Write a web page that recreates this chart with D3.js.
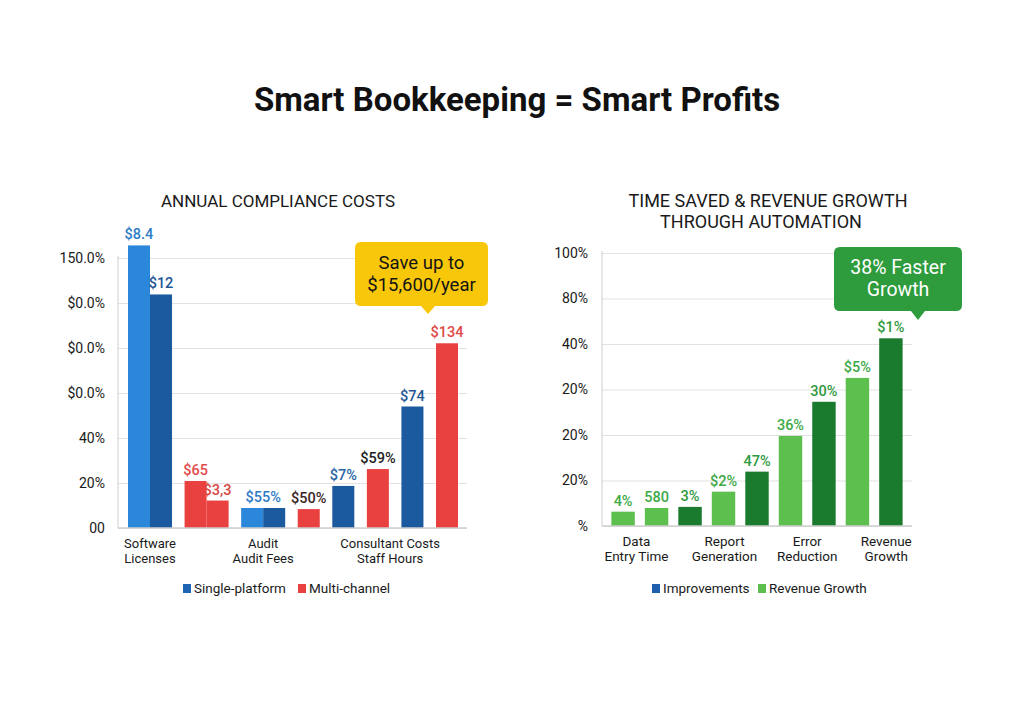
<!DOCTYPE html>
<html>
<head>
<meta charset="utf-8">
<script src="https://cdn.jsdelivr.net/npm/d3@7/dist/d3.min.js"></script>
<style>
  html, body { margin: 0; padding: 0; background: #ffffff; }
  svg { display: block; font-family: Roboto, "Liberation Sans", Arial, sans-serif; }
</style>
</head>
<body>
<svg id="chart" width="1024" height="717"></svg>
<script>
// ---------------- DATA ----------------
const mainTitle = "Smart Bookkeeping = Smart Profits";

// Left chart
const leftTitle = "ANNUAL COMPLIANCE COSTS";
const leftTickValues = [0, 20, 40, 60, 80, 100, 120];
const leftTickLabels = ["00", "20%", "40%", "$0.0%", "$0.0%", "$0.0%", "150.0%"];
const leftGroupSizes = [2, 2, 2, 1, 1, 1, 1, 1];
const leftBarSeries = ["single-light", "single", "multi", "multi", "single-light", "single", "multi", "single", "multi", "single", "multi"];
const leftBarValues = [125.6, 103.8, 20.9, 12.2, 8.9, 8.9, 8.4, 18.7, 26.2, 54, 82.1];
const leftBarLabels = ["$8.4", "$12", "$65", "$3,3", "", "", "$50%", "$7%", "$59%", "$74", "$134"];
const leftPairLabel = { text: "$55%", bars: [4, 5] };
const leftCategoryLabels = [["Software", "Licenses"], ["Audit", "Audit Fees"], ["Consultant Costs", "Staff Hours"]];
const leftCategoryAnchors = [1, 5, 8.5]; // bar boundaries the category labels sit under
const leftLegend = ["Single-platform", "Multi-channel"];
const leftCallout = ["Save up to", "$15,600/year"];

// Right chart
const rightTitle = ["TIME SAVED & REVENUE GROWTH", "THROUGH AUTOMATION"];
const rightTickValues = [0, 20, 40, 60, 80, 100, 120];
const rightTickLabels = ["%", "20%", "20%", "20%", "40%", "80%", "100%"];
const rightBarSeries = ["light", "light", "dark", "light", "dark", "light", "dark", "light", "dark"];
const rightBarValues = [6.3, 7.9, 8.4, 15.1, 23.9, 39.6, 54.6, 65.1, 82.5];
const rightBarLabels = ["4%", "580", "3%", "$2%", "47%", "36%", "30%", "$5%", "$1%"];
const rightCategoryLabels = [["Data", "Entry Time"], ["Report", "Generation"], ["Error", "Reduction"], ["Revenue", "Growth"]];
const rightCategoryAnchors = [0.4, 3.03, 5.5, 7.86];
const rightLegend = ["Improvements", "Revenue Growth"];
const rightCallout = ["38% Faster", "Growth"];

// ---------------- STYLE ----------------
const colors = {
  "single-light": "#2B87DA",
  "single": "#1B5A9E",
  "multi": "#E8413F",
  "light": "#5CBF4E",
  "dark": "#1A7A2E"
};
const leftLabelColors = ["#2E7CC6", "#1F5794", "#E24B4B", "#D94545", "", "", "#3B2626", "#2A64A3", "#222222", "#1F5794", "#E04848"];
const grid = "#e2e2e2";
const axisCol = "#cfcfcf";
const textCol = "#1a1a1a";

const svg = d3.select("#chart");
svg.append("rect").attr("width", 1024).attr("height", 717).attr("fill", "#fff");

svg.append("text")
  .attr("x", 517).attr("y", 111)
  .attr("text-anchor", "middle")
  .attr("font-size", 33).attr("font-weight", 700)
  .attr("fill", "#111")
  .text(mainTitle);

// ---------- helper: callout ----------
function callout(g, x0, y0, w, h, tipX, tipY, fill, lines, textFill, fs) {
  const r = 6, hw = 7;
  const x1 = x0 + w, y1 = y0 + h;
  const p = d3.path();
  p.moveTo(x0 + r, y0);
  p.lineTo(x1 - r, y0); p.quadraticCurveTo(x1, y0, x1, y0 + r);
  p.lineTo(x1, y1 - r); p.quadraticCurveTo(x1, y1, x1 - r, y1);
  p.lineTo(tipX + hw, y1); p.lineTo(tipX, tipY); p.lineTo(tipX - hw, y1);
  p.lineTo(x0 + r, y1); p.quadraticCurveTo(x0, y1, x0, y1 - r);
  p.lineTo(x0, y0 + r); p.quadraticCurveTo(x0, y0, x0 + r, y0);
  p.closePath();
  g.append("path").attr("d", p.toString()).attr("fill", fill);
  const cx = x0 + w / 2;
  lines.forEach((t, i) => {
    g.append("text").attr("x", cx).attr("y", y0 + h / 2 - 4 + (i - (lines.length - 1) / 2) * 22 + 10)
      .attr("text-anchor", "middle").attr("font-size", fs).attr("fill", textFill)
      .attr("font-weight", 400).text(t);
  });
}

// ================= LEFT CHART =================
{
  const g = svg.append("g");
  const xL0 = 118, xL1 = 467, yBase = 528, yTop = 258;
  const y = d3.scaleLinear().domain([0, 120]).range([yBase, yTop]);

  // x layout: bars 1 unit wide, gap of gapU units between groups
  const gapU = 0.57;
  const starts = [];
  let u = 0;
  leftGroupSizes.forEach((n, gi) => {
    for (let k = 0; k < n; k++) { starts.push(u); u += 1; }
    if (gi < leftGroupSizes.length - 1) u += gapU;
  });
  const x = d3.scaleLinear().domain([0, u]).range([128, 458]);
  const bw = x(1) - x(0);

  g.append("text").attr("x", 278).attr("y", 207).attr("text-anchor", "middle")
    .attr("font-size", 17).attr("fill", textCol).text(leftTitle);

  // grid
  g.append("g").attr("transform", `translate(${xL0},0)`)
    .call(d3.axisLeft(y).tickValues(leftTickValues).tickSize(-(xL1 - xL0)).tickFormat(""))
    .call(s => s.select(".domain").remove())
    .call(s => s.selectAll("line").attr("stroke", grid).attr("stroke-width", 1.2));

  // y axis labels
  g.append("g").attr("transform", `translate(${xL0},0)`)
    .call(d3.axisLeft(y).tickValues(leftTickValues).tickSize(0).tickPadding(13)
      .tickFormat((d, i) => leftTickLabels[i]))
    .call(s => s.select(".domain").attr("stroke", axisCol).attr("d", `M0,${yTop - 2}V${yBase}`))
    .call(s => s.selectAll("text").attr("font-size", 14).attr("fill", textCol).attr("font-family", "Roboto, sans-serif"));

  // bars
  g.selectAll(".lbar").data(leftBarValues).join("rect")
    .attr("x", (d, i) => x(starts[i]))
    .attr("y", d => y(d))
    .attr("width", bw)
    .attr("height", d => yBase - y(d))
    .attr("fill", (d, i) => colors[leftBarSeries[i]]);

  // baseline
  g.append("line").attr("x1", xL0).attr("x2", xL1).attr("y1", yBase).attr("y2", yBase)
    .attr("stroke", axisCol).attr("stroke-width", 1.5);

  // value labels
  g.selectAll(".lval").data(leftBarValues).join("text")
    .attr("x", (d, i) => x(starts[i]) + bw / 2)
    .attr("y", d => y(d) - 6)
    .attr("text-anchor", "middle").attr("font-size", 14.5).attr("font-weight", 500)
    .attr("fill", (d, i) => leftLabelColors[i])
    .text((d, i) => leftBarLabels[i]);
  {
    const [a, b] = leftPairLabel.bars;
    const top = Math.max(leftBarValues[a], leftBarValues[b]);
    g.append("text").attr("x", x(starts[b])).attr("y", y(top) - 6)
      .attr("text-anchor", "middle").attr("font-size", 14.5).attr("font-weight", 500)
      .attr("fill", "#2E7BC4").text(leftPairLabel.text);
  }

  // category labels
  leftCategoryLabels.forEach((lines, i) => {
    const a = leftCategoryAnchors[i];
    const fi = Math.floor(a);
    let cx;
    if (a === fi) cx = x(starts[fi]);
    else cx = (x(starts[fi]) + bw + x(starts[fi + 1])) / 2 - 5;
    lines.forEach((t, j) => {
      g.append("text").attr("x", cx).attr("y", 548 + j * 15).attr("text-anchor", "middle")
        .attr("font-size", 13).attr("fill", textCol).text(t);
    });
  });

  // legend
  const lg = g.append("g");
  lg.append("rect").attr("x", 183).attr("y", 584).attr("width", 8).attr("height", 9).attr("fill", "#1F63B4");
  lg.append("text").attr("x", 194).attr("y", 593).attr("font-size", 13.5).attr("fill", textCol).text(leftLegend[0]);
  lg.append("rect").attr("x", 298).attr("y", 584).attr("width", 8).attr("height", 9).attr("fill", colors.multi);
  lg.append("text").attr("x", 309).attr("y", 593).attr("font-size", 13.5).attr("fill", textCol).text(leftLegend[1]);

  // callout
  callout(g, 355, 242, 133, 64, 428, 314, "#F8C70A", leftCallout, "#141414", 18.5);
}

// ================= RIGHT CHART =================
{
  const g = svg.append("g");
  const xR0 = 602, xR1 = 912, yBase = 526, yTop = 253;
  const y = d3.scaleLinear().domain([0, 120]).range([yBase, yTop]);
  const x = d3.scaleBand().domain(d3.range(rightBarValues.length))
    .range([xR0, xR1]).paddingInner(0.3).paddingOuter(0.28);

  rightTitle.forEach((t, i) => {
    g.append("text").attr("x", i === 0 ? 768 : 761).attr("y", 207 + i * 21).attr("text-anchor", "middle")
      .attr("font-size", 18).attr("fill", textCol).text(t);
  });

  g.append("g").attr("transform", `translate(${xR0},0)`)
    .call(d3.axisLeft(y).tickValues(rightTickValues).tickSize(-(xR1 - xR0)).tickFormat(""))
    .call(s => s.select(".domain").remove())
    .call(s => s.selectAll("line").attr("stroke", grid).attr("stroke-width", 1.2));

  g.append("g").attr("transform", `translate(${xR0},0)`)
    .call(d3.axisLeft(y).tickValues(rightTickValues).tickSize(0).tickPadding(14)
      .tickFormat((d, i) => rightTickLabels[i]))
    .call(s => s.select(".domain").attr("stroke", axisCol).attr("d", `M0,${yTop - 2}V${yBase}`))
    .call(s => s.selectAll("text").attr("font-size", 14).attr("fill", textCol).attr("font-family", "Roboto, sans-serif"));

  g.selectAll(".rbar").data(rightBarValues).join("rect")
    .attr("x", (d, i) => x(i))
    .attr("y", d => y(d))
    .attr("width", x.bandwidth())
    .attr("height", d => yBase - y(d))
    .attr("fill", (d, i) => colors[rightBarSeries[i]]);

  g.append("line").attr("x1", xR0).attr("x2", xR1).attr("y1", yBase).attr("y2", yBase)
    .attr("stroke", axisCol).attr("stroke-width", 1.5);

  g.selectAll(".rval").data(rightBarValues).join("text")
    .attr("x", (d, i) => x(i) + x.bandwidth() / 2)
    .attr("y", d => y(d) - 6)
    .attr("text-anchor", "middle").attr("font-size", 14.5).attr("font-weight", 500)
    .attr("fill", (d, i) => rightBarSeries[i] === "dark" ? "#2F9A3E" : "#3DAA48")
    .text((d, i) => rightBarLabels[i]);

  const step = x.step();
  rightCategoryLabels.forEach((lines, i) => {
    const cx = x(0) + x.bandwidth() / 2 + rightCategoryAnchors[i] * step;
    lines.forEach((t, j) => {
      g.append("text").attr("x", cx).attr("y", 546 + j * 15).attr("text-anchor", "middle")
        .attr("font-size", 13.5).attr("fill", textCol).text(t);
    });
  });

  const lg = g.append("g");
  lg.append("rect").attr("x", 652).attr("y", 584).attr("width", 8).attr("height", 9).attr("fill", "#1F5FAD");
  lg.append("text").attr("x", 663).attr("y", 593).attr("font-size", 13.5).attr("fill", textCol).text(rightLegend[0]);
  lg.append("rect").attr("x", 758).attr("y", 584).attr("width", 8).attr("height", 9).attr("fill", colors.light);
  lg.append("text").attr("x", 769).attr("y", 593).attr("font-size", 13.5).attr("fill", textCol).text(rightLegend[1]);

  callout(g, 834, 247, 128, 64, 918, 320, "#2E9B3C", rightCallout, "#ffffff", 19.5);
}
</script>
</body>
</html>
